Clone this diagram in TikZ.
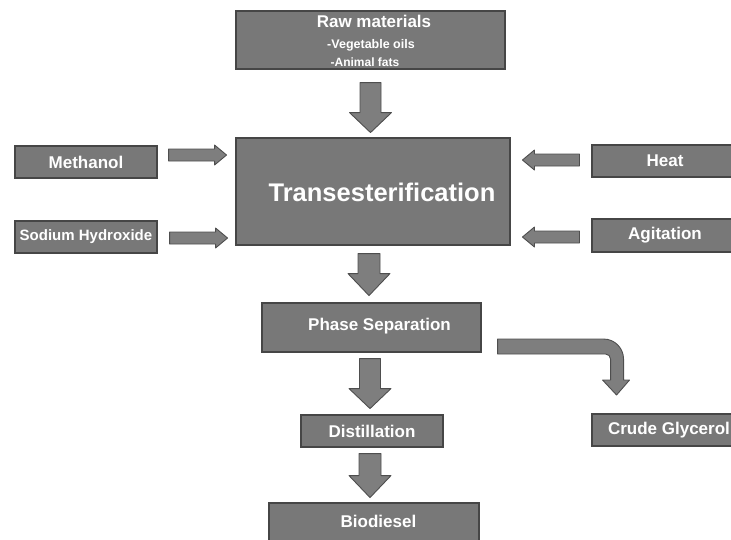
\documentclass[tikz,border=0pt]{standalone}
\usepackage{fontspec}
\setmainfont{Liberation Sans}
\usetikzlibrary{calc}

\definecolor{boxfill}{RGB}{120,120,120}
\definecolor{boxedge}{RGB}{70,70,70}
\definecolor{arrowfill}{RGB}{126,126,126}
\definecolor{arrowedge}{RGB}{78,78,78}

% straight block arrow: start coordinate, direction angle, length,
% shaft half width, head half width, head length
\newcommand\blockarrowdraw[6]{%
  \begin{scope}[shift={(#1)},rotate=#2]
    \draw[arrowbody] (0,-#4) -- ({#3-#6},-#4) -- ({#3-#6},-#5) -- (#3,0)
      -- ({#3-#6},#5) -- ({#3-#6},#4) -- (0,#4) -- cycle;
  \end{scope}}

\begin{document}
\begin{tikzpicture}[x=1pt,y=-1pt,
  procbox/.style={draw=boxedge,fill=boxfill,line width=1.1pt,inner sep=0pt,
    minimum width=#1},
  procbox/.default=142pt,
  lbl/.style={text=white,font=\bfseries\fontsize{17}{20}\selectfont},
  arrowbody/.style={draw=arrowedge,fill=arrowfill,line width=0.9pt,line join=round}]

\useasboundingbox (0,0) rectangle (731,539);
\clip (0,0) rectangle (731,539);

% process boxes
\node[procbox=269pt,minimum height=58pt] (raw) at (370.5,40) {};
\node[lbl] (rawtitle) at (374,21) {Raw materials};
\node[text=white,font=\bfseries\fontsize{12.5}{14}\selectfont] (rawveg) at (371,45) {-Vegetable oils};
\node[text=white,font=\bfseries\fontsize{12}{14}\selectfont] (rawfat) at (365,62) {-Animal fats};

\node[procbox=274pt,minimum height=107pt] (trans) at (373,191.5) {};
\node[text=white,font=\bfseries\fontsize{25.5}{30}\selectfont] (transtext)
  at (382,192) {Transesterification};

\node[procbox,minimum height=32pt,lbl] (methanol) at (86,162) {Methanol};
\node[procbox,minimum height=32pt,text=white,
  font=\bfseries\fontsize{15}{18}\selectfont] (sodium) at (86,237) {Sodium Hydroxide};
\node[procbox=146pt,minimum height=32pt,lbl] (heat) at (665,161) {Heat};
\node[procbox=146pt,minimum height=33pt,lbl] (agit) at (665,235.5) {Agitation};

\node[procbox=219pt,minimum height=49pt] (phase) at (371.5,327.5) {};
\node[lbl] (phasetext) at (379.5,326) {Phase Separation};
\node[procbox,minimum height=32pt,lbl] (distill) at (372,431) {Distillation};
\node[procbox=154pt,minimum height=32pt,lbl] (glycerol) at (669,430) {Crude Glycerol};
\node[procbox=210pt,minimum height=38pt] (biodiesel) at (374,522) {};
\node[lbl] (biotext) at (378.5,521) {Biodiesel};

% arrow start points
\coordinate (a1) at ($(raw.south)+(0,13)$);
\coordinate (a2) at ($(trans.south)+(-4,8)$);
\coordinate (a3) at ($(phase.south)+(-1.5,6)$);
\coordinate (a4) at ($(distill.south)+(-2,6)$);
\coordinate (am) at ($(methanol.east)+(11,-7)$);
\coordinate (as) at ($(sodium.east)+(12,1)$);
\coordinate (ah) at ($(heat.west)+(-12,-1)$);
\coordinate (ag) at ($(agit.west)+(-12,1.5)$);
\coordinate (ac) at ($(phase.east)+(16,19)$);

% main flow
\blockarrowdraw{a1}{-90}{50}{10.5}{21}{20}
\blockarrowdraw{a2}{-90}{42}{11}{21}{22}
\blockarrowdraw{a3}{-90}{50}{10.5}{21}{20}
\blockarrowdraw{a4}{-90}{44}{11}{21}{22}

% feeds into the reactor
\blockarrowdraw{am}{0}{58}{6}{10}{12}
\blockarrowdraw{as}{0}{58}{6}{10}{12}
\blockarrowdraw{ah}{180}{57}{6}{10}{12}
\blockarrowdraw{ag}{180}{57}{6}{10}{12}

% bent arrow towards the glycerol stream
\begin{scope}[shift={(ac)}]
  \draw[arrowbody] (0,-7.5) -- (106,-7.5)
    arc[start angle=-90,end angle=0,radius=20] -- (126,33.5) -- (132,33.5)
    -- (119,48.5) -- (105,33.5) -- (113,33.5) -- (113,12.5)
    arc[start angle=0,end angle=-90,radius=5] -- (0,7.5) -- cycle;
\end{scope}

\end{tikzpicture}
\end{document}
